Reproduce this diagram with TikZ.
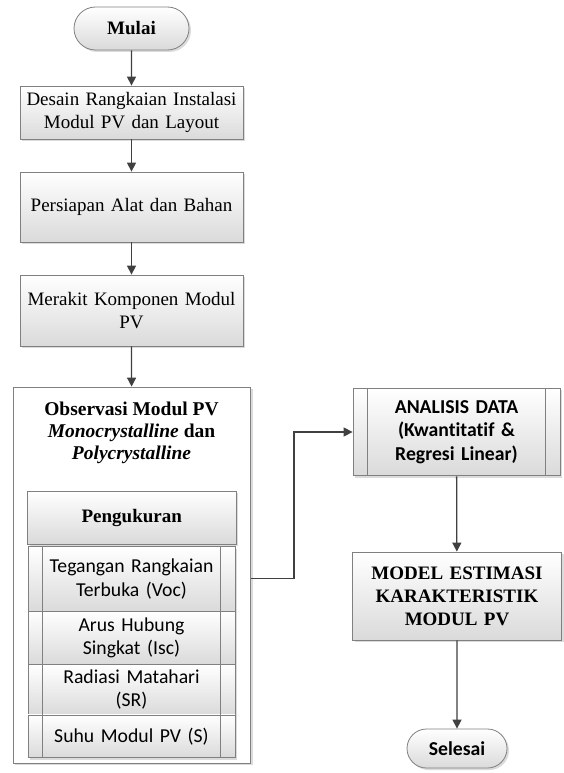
\documentclass[tikz,border=0pt]{standalone}
\usepackage{fontspec}
\setmainfont{Liberation Serif}
\newfontfamily\calib[Ligatures=NoCommon]{Carlito}
\usetikzlibrary{shapes.misc,shadows,arrows.meta}
\definecolor{bordc}{HTML}{808080}
\definecolor{linec}{HTML}{404040}
\definecolor{botc}{HTML}{DADADA}
\tikzset{
  shd/.style={drop shadow={shadow xshift=2pt,shadow yshift=-2pt,fill=black,opacity=0.14}},
  procbox/.style={draw=bordc,line width=0.8pt,top color=white,bottom color=botc,shd,
    align=center,inner sep=2pt,font=\fontsize{19}{23}\selectfont},
  termbox/.style={procbox,rounded rectangle,font=\fontsize{19}{23}\selectfont\bfseries},
  rowbox/.style={procbox,font=\calib\fontsize{19.7}{23.5}\selectfont,text width=176pt},
  arr/.style={draw=linec,line width=1.3pt,-{Triangle[length=9pt,width=9pt]}},
  sidel/.style={draw=bordc,line width=0.8pt}
}
\begin{document}
\begin{tikzpicture}[x=1pt,y=-1pt]
\useasboundingbox[fill=white] (0,0) rectangle (564,773);
% start
\node[termbox,minimum width=119pt,minimum height=43pt] (mulai) at (131.5,28.5) {Mulai};
\node[procbox,minimum width=223pt,minimum height=53pt,text width=218pt] (b1) at (131.5,112.5) {Desain Rangkaian Instalasi\\Modul PV dan Layout};
\node[procbox,minimum width=223pt,minimum height=70pt,text width=218pt] (b2) at (131.5,207) {Persiapan Alat dan Bahan};
\node[procbox,minimum width=223pt,minimum height=71pt,text width=218pt] (b3) at (131.5,310.5) {Merakit Komponen Modul\\PV};
% big observation box
\node[draw=bordc,line width=0.8pt,fill=white,shd,minimum width=237.5pt,minimum height=376pt,inner sep=0pt] (obs) at (131.75,575) {};
\node[align=center,font=\fontsize{19.5}{22}\selectfont\bfseries] (obst) at (131.5,433) {Observasi Modul PV\\\textit{Monocrystalline} dan\\\textit{Polycrystalline}};
\node[procbox,minimum width=208.5pt,minimum height=53pt,font=\fontsize{19}{23}\selectfont\bfseries] (peng) at (131.75,517.5) {Pengukuran};
\node[rowbox,minimum width=207pt,minimum height=64.3pt] (r1) at (131.5,578.8) {Tegangan Rangkaian\\Terbuka (Voc)};
\node[rowbox,minimum width=207pt,minimum height=53.3pt] (r2) at (131.5,637.7) {Arus Hubung\\Singkat (Isc)};
\node[rowbox,minimum width=207pt,minimum height=50.7pt] (r3) at (131.5,689.7) {Radiasi Matahari\\(SR)};
\node[rowbox,minimum width=207pt,minimum height=42.7pt] (r4) at (131.5,736.3) {Suhu Modul PV (S)};
\foreach \r in {r1,r2,r3,r4}{
  \draw[sidel] ([xshift=15pt]\r.north west) -- ([xshift=15pt]\r.south west);
  \draw[sidel] ([xshift=-15pt]\r.north east) -- ([xshift=-15pt]\r.south east);
}
% right column
\node[procbox,minimum width=207pt,minimum height=87.7pt,text width=176pt,font=\calib\fontsize{19.7}{23.5}\selectfont\bfseries] (ana) at (456.5,432) {ANALISIS DATA\\(Kwantitatif \&\\Regresi Linear)};
\draw[sidel] ([xshift=15pt]ana.north west) -- ([xshift=15pt]ana.south west);
\draw[sidel] ([xshift=-15pt]ana.north east) -- ([xshift=-15pt]ana.south east);
\node[procbox,minimum width=208pt,minimum height=88pt,text width=205pt,font=\fontsize{19}{23}\selectfont\bfseries] (model) at (457,596) {MODEL ESTIMASI\\KARAKTERISTIK\\MODUL PV};
\node[termbox,minimum width=104pt,minimum height=39pt,font=\calib\fontsize{19.7}{23}\selectfont\bfseries] (selesai) at (457,748.5) {Selesai};
% connectors
\draw[arr] (mulai) -- (b1);
\draw[arr] (b1) -- (b2);
\draw[arr] (b2) -- (b3);
\draw[arr] (b3) -- (obs);
\draw[arr] (obs.east |- r1.center) -- ++(43,0) |- (ana.west);
\draw[arr] (ana) -- (model);
\draw[arr] (model) -- (selesai);
\end{tikzpicture}
\end{document}
